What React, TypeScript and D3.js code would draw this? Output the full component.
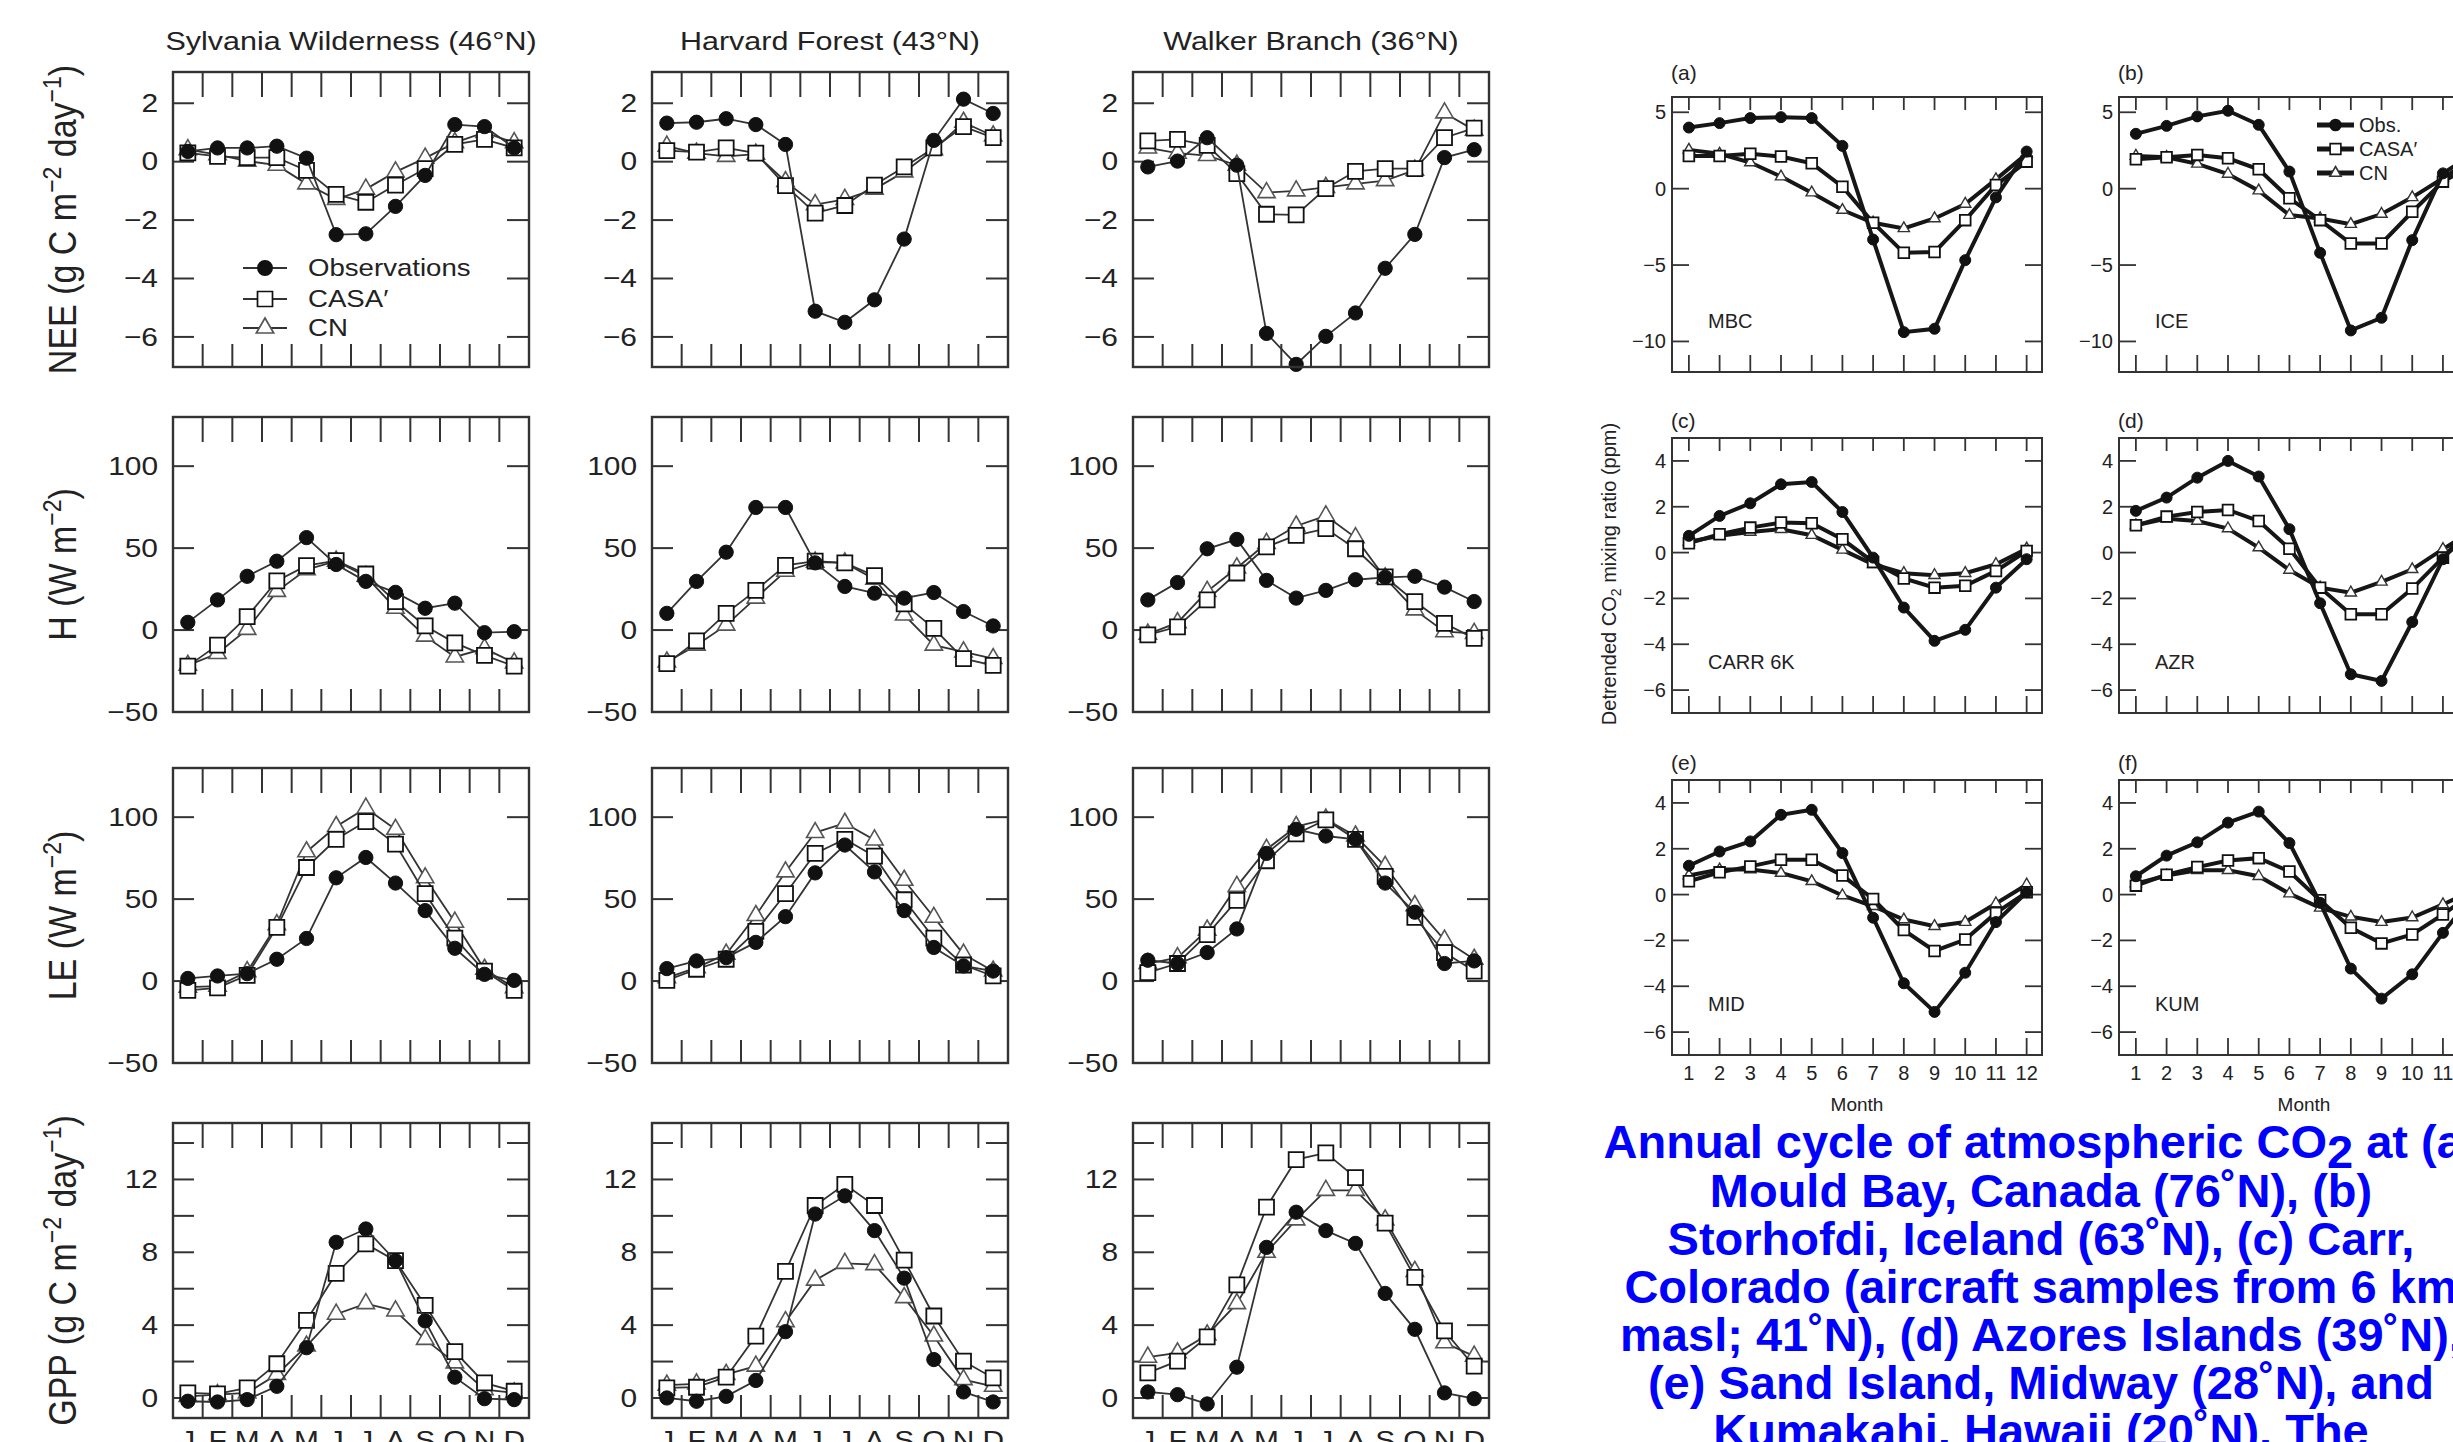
import React from "react";
import * as d3 from "d3";

const months = [1, 2, 3, 4, 5, 6, 7, 8, 9, 10, 11, 12];
const monthLetters = ["J", "F", "M", "A", "M", "J", "J", "A", "S", "O", "N", "D"];
const siteTitles = ["Sylvania Wilderness (46°N)", "Harvard Forest (43°N)", "Walker Branch (36°N)"];
const seriesNames = ["Observations", "CASA′", "CN"];

// NEE (g C m-2 day-1), one list per site
const neeObs = [
  [0.35, 0.47, 0.47, 0.53, 0.12, -2.5, -2.47, -1.53, -0.47, 1.27, 1.2, 0.47],
  [1.32, 1.35, 1.47, 1.27, 0.59, -5.12, -5.5, -4.73, -2.65, 0.73, 2.14, 1.65],
  [-0.18, 0.02, 0.82, -0.12, -5.88, -6.94, -5.98, -5.18, -3.65, -2.49, 0.14, 0.41],
];
const neeCasa = [
  [0.3, 0.18, 0.14, 0.14, -0.3, -1.12, -1.39, -0.8, -0.24, 0.59, 0.76, 0.47],
  [0.38, 0.33, 0.47, 0.29, -0.82, -1.76, -1.5, -0.8, -0.18, 0.47, 1.2, 0.82],
  [0.71, 0.76, 0.56, -0.41, -1.8, -1.82, -0.92, -0.33, -0.24, -0.24, 0.82, 1.15],
];
const neeCn = [
  [0.41, 0.24, 0.02, -0.12, -0.76, -1.29, -0.94, -0.35, 0.12, 0.65, 1.0, 0.65],
  [0.53, 0.29, 0.18, 0.26, -0.68, -1.47, -1.29, -0.94, -0.35, 0.41, 1.35, 0.88],
  [0.47, 0.29, 0.21, -0.12, -1.06, -1.0, -0.88, -0.76, -0.65, -0.29, 1.67, 1.08],
];

// sensible heat H (W m-2)
const hObs = [
  [4.7, 18.4, 32.8, 42, 56.4, 40, 29.7, 23, 13.3, 16.4, -1.6, -1],
  [10.2, 29.7, 47.5, 74.8, 74.8, 41, 26.6, 22.5, 19.5, 22.9, 11.3, 2.5],
  [18.4, 29, 49.6, 55.3, 30.3, 19.5, 24.2, 30.7, 32.2, 32.8, 26.2, 17.4],
];
const hCasa = [
  [-22, -9.2, 8.2, 30, 39.3, 42.4, 34.2, 17.4, 2.5, -7.8, -15.4, -22],
  [-20.5, -6.6, 10.2, 24.2, 39.5, 42, 41, 33.2, 16, 1, -17.4, -21.5],
  [-3, 2, 18.4, 34.8, 50.8, 57.8, 61.9, 49.6, 32.4, 17.4, 4.1, -5.1],
];
const hCn = [
  [-21.5, -14.3, 0.4, 23.6, 36.9, 42, 32.8, 13.3, -3.7, -16.4, -11.3, -20],
  [-19.5, -9.2, 3, 19.5, 35.9, 41.4, 41, 31.1, 9.2, -9.2, -13.3, -17.4],
  [-2.5, 4.5, 23.6, 37.9, 52.9, 63.5, 69.7, 56.4, 31.8, 12.3, -1, -2],
];

// latent heat LE (W m-2)
const leObs = [
  [1.6, 3.1, 4.5, 13.3, 26, 63, 75.4, 59.8, 43, 20, 4.1, 0.4],
  [7.6, 12.3, 14.3, 23.6, 39.3, 66, 83, 66.6, 43, 20.5, 9.2, 6.1],
  [12.7, 10.7, 17.4, 31.8, 77.9, 92.6, 88.5, 86.5, 59.8, 42, 10.7, 12.3],
];
const leCasa = [
  [-5.7, -4.1, 3.5, 32.8, 69.3, 86.5, 97.3, 83.6, 53.3, 26.2, 6.1, -5.7],
  [0.4, 7.2, 13.3, 30.3, 53.3, 77.9, 86.5, 76.2, 49.6, 26.2, 9.8, 3.1],
  [5.1, 10.7, 28.3, 49.2, 73.4, 89.8, 98.4, 86.5, 63.9, 38.9, 17.4, 6.1],
];
const leCn = [
  [-3.7, -3.1, 5.7, 34.4, 78.9, 94.3, 105.5, 92.6, 63, 35.9, 7.2, -4.1],
  [2, 8.2, 16.4, 40, 66.6, 90.6, 96.3, 86.1, 61.5, 38.9, 16.4, 6.1],
  [10.7, 14.3, 31.1, 57.8, 80.3, 94.3, 98.8, 88.5, 70, 46, 25, 13.3],
];

// GPP (g C m-2 day-1)
const gppObs = [
  [-0.18, -0.22, -0.09, 0.64, 2.76, 8.55, 9.28, 7.54, 4.23, 1.14, -0.04, -0.09],
  [0, -0.18, 0.09, 0.96, 3.64, 10.1, 11.1, 9.19, 6.58, 2.11, 0.33, -0.22],
  [0.33, 0.18, -0.33, 1.69, 8.27, 10.2, 9.19, 8.49, 5.74, 3.77, 0.28, -0.04],
];
const gppCasa = [
  [0.28, 0.22, 0.55, 1.88, 4.26, 6.84, 8.46, 7.54, 5.09, 2.54, 0.83, 0.37],
  [0.55, 0.59, 1.14, 3.4, 6.95, 10.57, 11.73, 10.57, 7.57, 4.5, 2.02, 1.1],
  [1.38, 2.02, 3.35, 6.21, 10.48, 13.09, 13.46, 12.1, 9.6, 6.62, 3.68, 1.75],
];
const gppCn = [
  [0.09, 0.18, 0.28, 1.29, 2.85, 4.6, 5.18, 4.78, 3.22, 1.93, 0.46, 0.28],
  [0.7, 0.77, 1.29, 1.75, 4.19, 6.47, 7.39, 7.32, 5.51, 3.4, 1.01, 0.64],
  [2.24, 2.48, 3.46, 5.18, 8.0, 9.78, 11.4, 11.4, 9.78, 6.95, 3.03, 2.3],
];

const neeTicks = [2, 0, -2, -4, -6];
const fluxTicks = [100, 50, 0, -50];
const gppTicks = [0, 2, 4, 6, 8, 10, 12, 14];
const gppLabels = [0, 4, 8, 12];

// right-hand figure: detrended CO2 (ppm) at six stations
const stationTags = ["(a)", "(b)", "(c)", "(d)", "(e)", "(f)"];
const stationNames = ["MBC", "ICE", "CARR 6K", "AZR", "MID", "KUM"];
const co2Obs = [
  [4.0, 4.29, 4.62, 4.68, 4.62, 2.8, -3.33, -9.39, -9.17, -4.68, -0.57, 2.43],
  [3.59, 4.11, 4.73, 5.1, 4.18, 1.12, -4.2, -9.28, -8.45, -3.37, 1.0, 2.3],
  [0.73, 1.6, 2.15, 2.98, 3.08, 1.77, -0.22, -2.4, -3.85, -3.37, -1.53, -0.29],
  [1.82, 2.4, 3.27, 4.0, 3.32, 1.02, -2.21, -5.31, -5.6, -3.03, -0.29, 1.5],
  [1.26, 1.88, 2.32, 3.48, 3.7, 1.81, -1.01, -3.87, -5.12, -3.41, -1.2, 0.1],
  [0.8, 1.7, 2.28, 3.14, 3.62, 2.25, -0.36, -3.23, -4.54, -3.48, -1.67, 0.0],
];
const co2Casa = [
  [2.14, 2.14, 2.28, 2.1, 1.66, 0.13, -2.23, -4.2, -4.14, -2.06, 0.24, 1.77],
  [1.93, 2.06, 2.21, 1.99, 1.27, -0.63, -2.06, -3.59, -3.59, -1.51, 0.46, 1.6],
  [0.41, 0.8, 1.09, 1.31, 1.28, 0.58, -0.41, -1.13, -1.53, -1.45, -0.8, 0.07],
  [1.19, 1.57, 1.77, 1.86, 1.38, 0.17, -1.53, -2.69, -2.69, -1.57, -0.22, 1.0],
  [0.58, 0.97, 1.23, 1.52, 1.52, 0.83, -0.19, -1.55, -2.46, -1.96, -0.8, 0.1],
  [0.39, 0.87, 1.2, 1.49, 1.59, 1.01, -0.25, -1.45, -2.13, -1.74, -0.87, 0.1],
];
const co2Cn = [
  [2.54, 2.28, 1.71, 0.79, -0.26, -1.4, -2.23, -2.6, -1.95, -1.0, 0.61, 2.28],
  [2.14, 2.06, 1.62, 0.96, -0.13, -1.73, -1.95, -2.32, -1.66, -0.57, 0.68, 2.0],
  [0.47, 0.73, 0.9, 1.02, 0.76, 0.12, -0.51, -0.9, -0.99, -0.9, -0.51, 0.17],
  [1.19, 1.48, 1.38, 1.05, 0.22, -0.76, -1.53, -1.75, -1.28, -0.73, 0.15, 1.0],
  [0.83, 1.09, 1.09, 0.94, 0.58, -0.04, -0.51, -1.09, -1.38, -1.2, -0.39, 0.43],
  [0.48, 0.83, 1.06, 1.06, 0.8, 0.04, -0.58, -0.97, -1.2, -1.0, -0.43, 0.2],
];
const co2TicksTop = [5, 0, -5, -10];
const co2Ticks = [4, 2, 0, -2, -4, -6];

const captionLines = [
  "Mould Bay, Canada (76˚N), (b)",
  "Storhofdi, Iceland (63˚N), (c) Carr,",
  "Colorado (aircraft samples from 6 km",
  "masl; 41˚N), (d) Azores Islands (39˚N),",
  "(e) Sand Island, Midway (28˚N), and",
  "Kumakahi, Hawaii (20˚N). The",
];

const FONT = "'Liberation Sans', Arial, Helvetica, sans-serif";
const SX = 1.15; // left figure lettering is a little wide
const minus = (v: number) => String(v).replace("-", "\u2212");

const leftColX = [173, 652, 1133];
const leftRowY = [72, 417, 768, 1123];
const LW = 356;
const LH = 295;

const leftRows = [
  { domain: [-7.03, 3.07], ticks: neeTicks, labels: neeTicks, obs: neeObs, casa: neeCasa, cn: neeCn,
    ylab: ["NEE (g C m", "−2", " day", "−1", ")"] },
  { domain: [-50, 130], ticks: fluxTicks, labels: fluxTicks, obs: hObs, casa: hCasa, cn: hCn,
    ylab: ["H (W m", "−2", ")"] },
  { domain: [-50, 130], ticks: fluxTicks, labels: fluxTicks, obs: leObs, casa: leCasa, cn: leCn,
    ylab: ["LE (W m", "−2", ")"] },
  { domain: [-1.1, 15.1], ticks: gppTicks, labels: gppLabels, obs: gppObs, casa: gppCasa, cn: gppCn,
    ylab: ["GPP (g C m", "−2", " day", "−1", ")"] },
];

const sym = (type: any, size: number) => d3.symbol().type(type).size(size)() as string;

function LeftPanel({ row, col }: { row: number; col: number }) {
  const r = leftRows[row];
  const x0 = leftColX[col];
  const y0 = leftRowY[row];
  const x = d3.scaleLinear().domain([0.5, 12.5]).range([x0, x0 + LW]);
  const y = d3.scaleLinear().domain(r.domain).range([y0 + LH, y0]);
  const line = d3.line<number>().x((_, i) => x(months[i])).y((d) => y(d));
  const series = [
    { vals: r.cn[col], d: sym(d3.symbolTriangle, 130), fill: "#fff", stroke: "#555", sw: 1.6 },
    { vals: r.casa[col], d: sym(d3.symbolSquare, 225), fill: "#fff", stroke: "#111", sw: 1.8 },
    { vals: r.obs[col], d: sym(d3.symbolCircle, 160), fill: "#111", stroke: "#111", sw: 1 },
  ];
  return (
    <g>
      {months.slice(0, 11).map((m) => (
        <g key={m} stroke="#333" strokeWidth={2}>
          <line x1={x(m + 0.5)} x2={x(m + 0.5)} y1={y0} y2={y0 + 25} />
          <line x1={x(m + 0.5)} x2={x(m + 0.5)} y1={y0 + LH} y2={y0 + LH - 23} />
        </g>
      ))}
      {r.ticks.map((t) => (
        <g key={t} stroke="#333" strokeWidth={2}>
          <line x1={x0} x2={x0 + 21} y1={y(t)} y2={y(t)} />
          <line x1={x0 + LW} x2={x0 + LW - 22} y1={y(t)} y2={y(t)} />
        </g>
      ))}
      {r.labels.map((t) => (
        <text key={t} transform={`translate(${x0 - 15},${y(t)}) scale(${SX},1)`} textAnchor="end"
          dominantBaseline="central" fontSize={26} fill="#222">{minus(t)}</text>
      ))}
      {series.map((s, k) => (
        <g key={k}>
          <path d={line(s.vals) as string} fill="none" stroke="#333" strokeWidth={1.8} />
          {s.vals.map((v, i) => (
            <path key={i} d={s.d} transform={`translate(${x(months[i])},${y(v)})`}
              fill={s.fill} stroke={s.stroke} strokeWidth={s.sw} />
          ))}
        </g>
      ))}
      <rect x={x0} y={y0} width={LW} height={LH} fill="none" stroke="#333" strokeWidth={2.4} />
      {row === 0 && (
        <text transform={`translate(${x0 + LW / 2},${y0 - 22}) scale(${SX},1)`} textAnchor="middle"
          fontSize={26.5} fill="#222">{siteTitles[col]}</text>
      )}
      {row === 3 && monthLetters.map((m, i) => (
        <text key={i} transform={`translate(${x(months[i])},${y0 + LH + 31}) scale(${SX},1)`}
          textAnchor="middle" fontSize={26} fill="#222">{m}</text>
      ))}
    </g>
  );
}

function LeftLegend() {
  const sx = [243, 287];
  const ys = [268, 299, 328];
  const marks = [
    { d: sym(d3.symbolCircle, 160), fill: "#111", stroke: "#111" },
    { d: sym(d3.symbolSquare, 225), fill: "#fff", stroke: "#111" },
    { d: sym(d3.symbolTriangle, 130), fill: "#fff", stroke: "#555" },
  ];
  return (
    <g>
      {seriesNames.map((n, i) => (
        <g key={n}>
          <line x1={sx[0]} x2={sx[1]} y1={ys[i]} y2={ys[i]} stroke="#333" strokeWidth={1.8} />
          <path d={marks[i].d} transform={`translate(${(sx[0] + sx[1]) / 2},${ys[i]})`}
            fill={marks[i].fill} stroke={marks[i].stroke} strokeWidth={1.7} />
          <text transform={`translate(308,${ys[i]}) scale(${SX},1)`} dominantBaseline="central"
            fontSize={24} fill="#222">{n}</text>
        </g>
      ))}
    </g>
  );
}

function LeftYLabel({ row }: { row: number }) {
  const parts = leftRows[row].ylab;
  const cy = leftRowY[row] + LH / 2;
  return (
    <text transform={`translate(76,${cy}) scale(${SX},1) rotate(-90)`} textAnchor="middle"
      fontSize={34} fill="#222">
      {parts.map((p, i) =>
        i % 2 === 1 ? (
          <tspan key={i} dy={-13} fontSize={23}>{p}</tspan>
        ) : (
          <tspan key={i} dy={i === 0 ? 0 : 13}>{p}</tspan>
        )
      )}
    </text>
  );
}

const rightColX = [1672, 2119];
const rightRowY = [97, 438, 780];
const tagY = [80, 428, 770];
const RW = 370;
const RH = 275;

function RightPanel({ idx }: { idx: number }) {
  const col = idx % 2;
  const row = Math.floor(idx / 2);
  const x0 = rightColX[col];
  const y0 = rightRowY[row];
  const x = d3.scaleLinear().domain([0.45, 12.5]).range([x0, x0 + RW]);
  const y = d3.scaleLinear().domain(row === 0 ? [-12, 6] : [-7, 5]).range([y0 + RH, y0]);
  const ticks = row === 0 ? co2TicksTop : co2Ticks;
  const line = d3.line<number>().x((_, i) => x(months[i])).y((d) => y(d));
  const series = [
    { vals: co2Cn[idx], d: sym(d3.symbolTriangle, 55), fill: "#fff", stroke: "#333", sw: 1.4 },
    { vals: co2Casa[idx], d: sym(d3.symbolSquare, 115), fill: "#fff", stroke: "#111", sw: 1.8 },
    { vals: co2Obs[idx], d: sym(d3.symbolCircle, 95), fill: "#111", stroke: "#111", sw: 1 },
  ];
  return (
    <g>
      {months.map((m) => (
        <g key={m} stroke="#333" strokeWidth={1.8}>
          <line x1={x(m)} x2={x(m)} y1={y0} y2={y0 + 13} />
          <line x1={x(m)} x2={x(m)} y1={y0 + RH} y2={y0 + RH - 17} />
        </g>
      ))}
      {ticks.map((t) => (
        <g key={t} stroke="#333" strokeWidth={1.8}>
          <line x1={x0} x2={x0 + 17} y1={y(t)} y2={y(t)} />
          <line x1={x0 + RW} x2={x0 + RW - 17} y1={y(t)} y2={y(t)} />
          </g>
      ))}
      {ticks.map((t) => (
        <text key={t} x={x0 - 6} y={y(t)} textAnchor="end" dominantBaseline="central"
          fontSize={20} fill="#222">{minus(t)}</text>
      ))}
      {series.map((s, k) => (
        <g key={k}>
          <path d={line(s.vals) as string} fill="none" stroke="#161616" strokeWidth={4} />
          {s.vals.map((v, i) => (
            <path key={i} d={s.d} transform={`translate(${x(months[i])},${y(v)})`}
              fill={s.fill} stroke={s.stroke} strokeWidth={s.sw} />
          ))}
        </g>
      ))}
      <rect x={x0} y={y0} width={RW} height={RH} fill="none" stroke="#333" strokeWidth={2} />
      <text x={x0 - 1} y={tagY[row]} fontSize={21} fill="#222">{stationTags[idx]}</text>
      <text x={x0 + 36} y={y0 + RH - 44} fontSize={20} fill="#222">{stationNames[idx]}</text>
      {row === 2 && months.map((m) => (
        <text key={m} x={x(m)} y={1080} textAnchor="middle" fontSize={20} fill="#222">{m}</text>
      ))}
      {row === 2 && (
        <text x={x0 + RW / 2} y={1111} textAnchor="middle" fontSize={19} fill="#222">Month</text>
      )}
    </g>
  );
}

function RightLegend() {
  const sx = [2317, 2354];
  const ys = [125, 149, 173];
  const names = ["Obs.", "CASA′", "CN"];
  const marks = [
    { d: sym(d3.symbolCircle, 95), fill: "#111", stroke: "#111" },
    { d: sym(d3.symbolSquare, 115), fill: "#fff", stroke: "#111" },
    { d: sym(d3.symbolTriangle, 55), fill: "#fff", stroke: "#333" },
  ];
  return (
    <g>
      {names.map((n, i) => (
        <g key={n}>
          <line x1={sx[0]} x2={sx[1]} y1={ys[i]} y2={ys[i]} stroke="#161616" strokeWidth={5} />
          <path d={marks[i].d} transform={`translate(${(sx[0] + sx[1]) / 2},${ys[i]})`}
            fill={marks[i].fill} stroke={marks[i].stroke} strokeWidth={1.6} />
          <text x={2359} y={ys[i]} dominantBaseline="central" fontSize={20} fill="#222">{n}</text>
        </g>
      ))}
    </g>
  );
}

export default function App() {
  return (
    <div style={{ position: "fixed", left: 0, top: 0, width: 2453, height: 1442, overflow: "hidden", background: "#fff" }}>
      <svg width={2453} height={1442} fontFamily={FONT} style={{ display: "block" }}>
        <rect width={2453} height={1442} fill="#fff" />
        {leftRows.map((_, row) =>
          leftColX.map((__, col) => <LeftPanel key={`${row}-${col}`} row={row} col={col} />)
        )}
        {leftRows.map((_, row) => <LeftYLabel key={row} row={row} />)}
        <LeftLegend />

        {stationNames.map((_, i) => <RightPanel key={i} idx={i} />)}
        <RightLegend />
        <text transform="translate(1616,574) rotate(-90)" textAnchor="middle" fontSize={20} fill="#222">
          Detrended CO<tspan dy={5} fontSize={14}>2</tspan><tspan dy={-5}> mixing ratio (ppm)</tspan>
        </text>

        <g fill="#0000ff" fontWeight="bold" fontSize={47} textAnchor="middle">
          <text x={2041} y={1158}>
            Annual cycle of atmospheric CO<tspan dy={10}>2</tspan><tspan dy={-10}> at (a)</tspan>
          </text>
          {captionLines.map((t, i) => (
            <text key={i} x={2041} y={1207 + i * 48}>{t}</text>
          ))}
        </g>
      </svg>
    </div>
  );
}
